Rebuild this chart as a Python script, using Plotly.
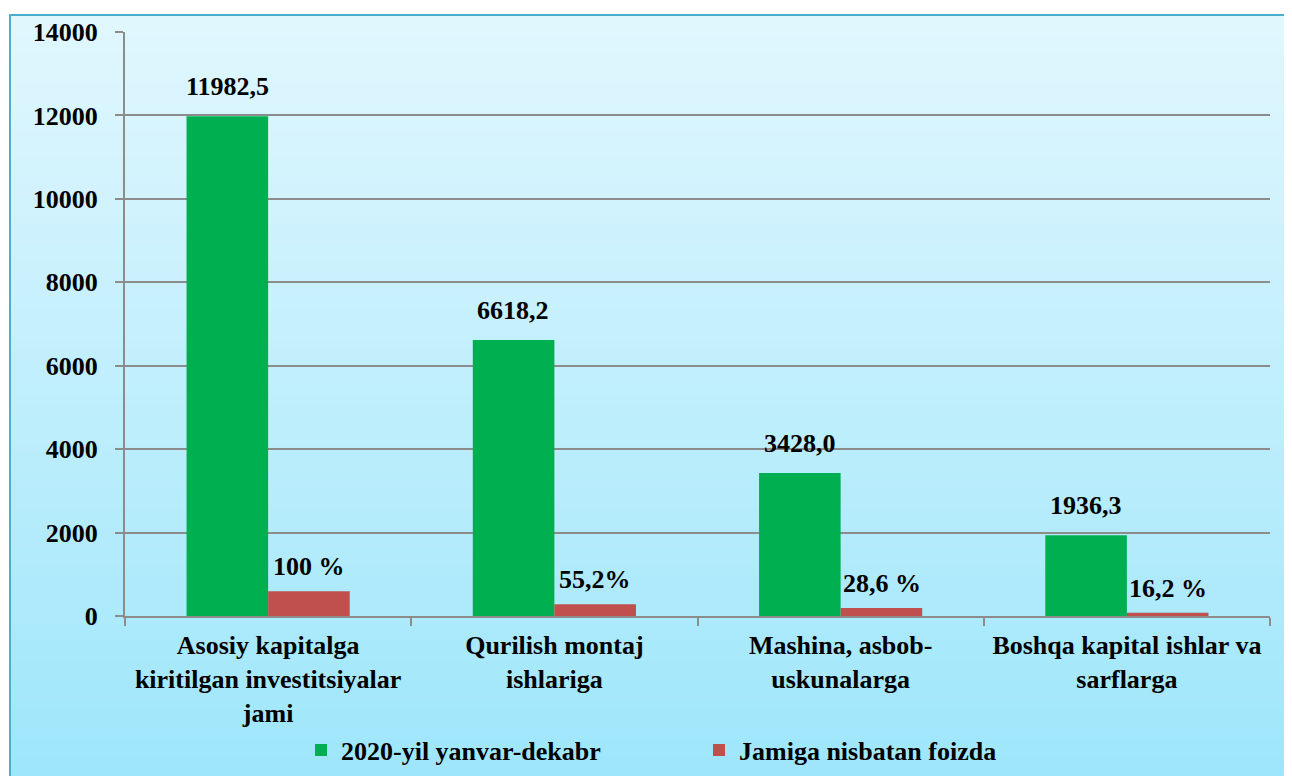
import plotly.graph_objects as go

categories = [
    "Asosiy kapitalga<br>kiritilgan investitsiyalar<br>jami",
    "Qurilish montaj<br>ishlariga",
    "Mashina, asbob-<br>uskunalarga",
    "Boshqa kapital ishlar va<br>sarflarga",
]
values_2020 = [11982.5, 6618.2, 3428.0, 1936.3]
labels_2020 = ["11982,5", "6618,2", "3428,0", "1936,3"]
values_share = [593, 282, 193, 80]
labels_share = ["100 %", "55,2%", "28,6 %", "16,2 %"]
y_ticks = [0, 2000, 4000, 6000, 8000, 10000, 12000, 14000]

# the page body has an 8px margin, so the figure starts at (8, 8)
OFF = 8
W, H = 1292, 776
L, T = 125 - OFF, 32 - OFF
R, B = W - (1270 - OFF), H - (616 - OFF)
PW, PH = W - L - R, H - T - B


def px_x(px):  # page pixel -> paper x
    return (px - OFF - L) / PW


def px_y(py):  # page pixel -> paper y
    return (H - B - (py - OFF)) / PH


FONT = dict(family="Liberation Serif", size=26, color="black", weight="bold")
GREY = "#8c8c8c"

fig = go.Figure()
fig.add_trace(go.Bar(x=categories, y=values_2020, name="2020-yil yanvar-dekabr",
                     marker=dict(color="#00b050", line=dict(width=0))))
fig.add_trace(go.Bar(x=categories, y=values_share, name="Jamiga nisbatan foizda",
                     marker=dict(color="#c0504d", line=dict(width=0))))

# data labels above the bars
for cat, v, t in zip(categories, values_2020, labels_2020):
    fig.add_annotation(x=cat, y=v, text=t, showarrow=False, xshift=-41, yshift=13,
                       yanchor="bottom", font=FONT)
for cat, v, t in zip(categories, values_share, labels_share):
    fig.add_annotation(x=cat, y=v, text=t, showarrow=False, xshift=41, yshift=8,
                       yanchor="bottom", font=FONT)

# background panel with vertical gradient
top_c, bot_c = (225, 247, 254), (158, 230, 251)
y_top, y_bot = 15, 776
n = 80
for i in range(n):
    f = (i + 0.5) / n
    c = tuple(round(a + (b - a) * f) for a, b in zip(top_c, bot_c))
    fig.add_shape(type="rect", xref="paper", yref="paper", layer="below",
                  x0=px_x(10), x1=px_x(1310),
                  y0=px_y(y_top + (y_bot - y_top) * i / n),
                  y1=px_y(y_top + (y_bot - y_top) * (i + 1) / n + 1),
                  fillcolor="rgb(%d,%d,%d)" % c, line=dict(width=0))
fig.add_shape(type="line", xref="paper", yref="paper", layer="below",
              x0=px_x(7.5), x1=px_x(7.5), y0=px_y(790), y1=px_y(16),
              line=dict(color="#d4d4d4", width=1))
fig.add_shape(type="rect", xref="paper", yref="paper", layer="below",
              x0=px_x(10), x1=px_x(1320), y0=px_y(800), y1=px_y(15),
              fillcolor="rgba(0,0,0,0)", line=dict(color="#4aaecc", width=2))

fig.update_layout(
    width=W, height=H,
    margin=dict(l=L, r=R, t=T, b=B, autoexpand=False),
    paper_bgcolor="white",
    plot_bgcolor="rgba(0,0,0,0)",
    barmode="group", bargap=0.43, bargroupgap=0,
    font=FONT,
    showlegend=True,
    legend=dict(orientation="h", x=px_x(301), xanchor="left", y=px_y(750), yanchor="middle",
                bgcolor="rgba(0,0,0,0)", font=FONT, entrywidth=353, traceorder="normal"),
    xaxis=dict(type="category", tickson="boundaries", ticks="outside", ticklen=8,
               tickwidth=2, tickcolor=GREY, showline=True, linecolor=GREY, linewidth=2,
               showgrid=False, tickfont=FONT, automargin=False, ticklabelstandoff=5),
    yaxis=dict(range=[0, 14000], tickvals=y_ticks, tickformat="d", ticks="outside",
               ticklen=8, tickwidth=2, tickcolor=GREY, showline=True, linecolor=GREY,
               linewidth=2, showgrid=True, gridcolor=GREY, gridwidth=2, zeroline=False,
               tickfont=FONT, ticklabelstandoff=12, automargin=False),
)

fig.write_html("out.html")
